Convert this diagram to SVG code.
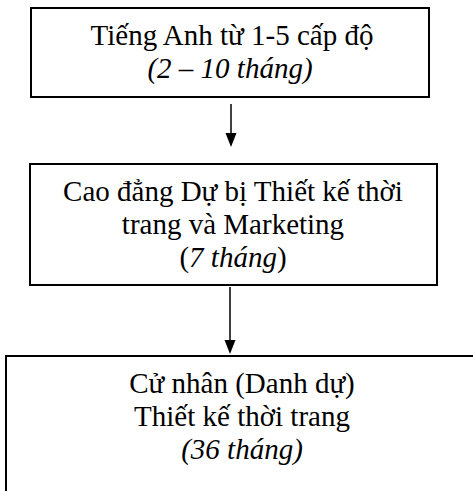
<svg xmlns="http://www.w3.org/2000/svg" width="473" height="491" viewBox="0 0 473 491">
<style>
.box{fill:#fff;stroke:#000;stroke-width:2}
.t{font-family:"Liberation Serif","Times New Roman",serif;font-size:29px;fill:#000;text-anchor:middle}
.i{font-style:italic}
.c{stroke:#000;stroke-width:1.5;fill:none}
.ah{fill:#000}
</style>
<rect width="473" height="491" fill="#fff"/>
<g id="connectors">
<path class="c" d="M231,104 V133"/>
<path class="ah" d="M225.5,133 L236.5,133 L231,147 Z"/>
<path class="c" d="M230,287 V340"/>
<path class="ah" d="M224.5,340 L235.5,340 L230,354 Z"/>
</g>
<g id="node1">
<rect class="box" x="31" y="8" width="398" height="89"/>
<text class="t" x="232" y="44.5">Tiếng Anh từ 1-5 cấp độ</text>
<text class="t i" x="230" y="78">(2 – 10 tháng)</text>
</g>
<g id="node2">
<rect class="box" x="30" y="164" width="407" height="121"/>
<text class="t" x="233" y="200.5">Cao đẳng Dự bị Thiết kế thời</text>
<text class="t" x="233" y="233.5">trang và Marketing</text>
<text class="t" x="233" y="267">(<tspan class="i">7 tháng</tspan>)</text>
</g>
<g id="node3">
<rect class="box" x="6" y="356" width="480" height="150"/>
<text class="t" x="242" y="392.5">Cử nhân (Danh dự)</text>
<text class="t" x="242" y="425.5">Thiết kế thời trang</text>
<text class="t i" x="242" y="459">(36 tháng)</text>
</g>
</svg>
